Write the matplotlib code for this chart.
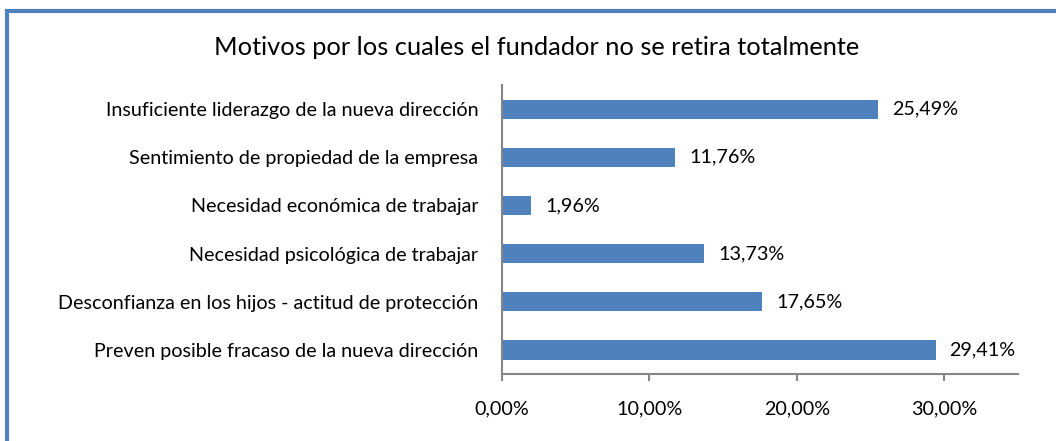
import matplotlib.pyplot as plt
from matplotlib.patches import Rectangle
from matplotlib.ticker import FuncFormatter

plt.rcParams['font.family'] = ['Lato', 'DejaVu Sans']

# categorías de abajo hacia arriba
motivos = ['Preven posible fracaso de la nueva dirección',
           'Desconfianza en los hijos - actitud de protección',
           'Necesidad psicológica de trabajar',
           'Necesidad económica de trabajar',
           'Sentimiento de propiedad de la empresa',
           'Insuficiente liderazgo de la nueva dirección']
porcentajes = [29.41, 17.65, 13.73, 1.96, 11.76, 25.49]
ticks_x = [0, 10, 20, 30]

fig = plt.figure(figsize=(10.56, 4.41), dpi=100)
ax = fig.add_axes([0.4754, 0.152, 0.4886, 0.655])

azul = '#4F81BD'
gris = '#868686'
fs = 14.2
pos = range(len(motivos))
ax.barh(pos, porcentajes, height=0.4, color=azul)

for y, v in zip(pos, porcentajes):
    ax.text(v + 0.95, y, f'{v:.2f}%'.replace('.', ','), va='center', ha='left',
            fontsize=fs)

ax.set_xlim(0, 35)
ax.set_ylim(-0.5, len(motivos) - 0.5)
ax.set_yticks(list(pos))
ax.set_yticklabels(motivos, fontsize=fs)
ax.set_xticks(ticks_x)
ax.xaxis.set_major_formatter(FuncFormatter(lambda x, p: f'{x:.2f}%'.replace('.', ',')))
ax.tick_params(axis='x', labelsize=fs, length=5, color=gris, width=1.5, pad=14)
ax.tick_params(axis='y', length=0, pad=17)

for s in ['top', 'right']:
    ax.spines[s].set_visible(False)
for s in ['left', 'bottom']:
    ax.spines[s].set_color(gris)
    ax.spines[s].set_linewidth(1.5)

fig.text(0.508, 0.893, 'Motivos por los cuales el fundador no se retira totalmente',
         ha='center', va='center', fontsize=18.3)

# marco azul (cortado a la derecha y abajo)
fig.patches.append(Rectangle((7 / 1056, -0.1), 1.2, 1 - 10.5 / 441 + 0.1,
                             transform=fig.transFigure, fill=False,
                             edgecolor=azul, linewidth=3))

fig.savefig('out.png', dpi=100)
